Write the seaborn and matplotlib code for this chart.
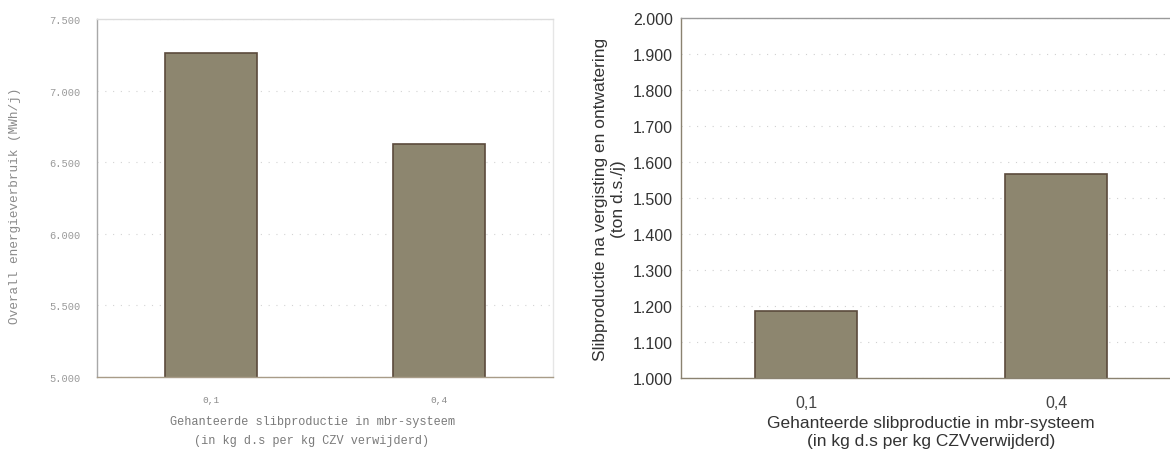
import matplotlib
matplotlib.use("Agg")
import matplotlib.pyplot as plt
import seaborn as sns
import pandas as pd

# Data
categories = ["0,1", "0,4"]
energy_mwh = [7265, 6625]          # overall energy use (MWh/j)
sludge_ton = [1185, 1567]          # sludge after digestion/dewatering (ton d.s./j)

energy_ticks = [5000, 5500, 6000, 6500, 7000, 7500]
energy_ticklabels = ["5.000", "5.500", "6.000", "6.500", "7.000", "7.500"]
sludge_ticks = [1000, 1100, 1200, 1300, 1400, 1500, 1600, 1700, 1800, 1900, 2000]
sludge_ticklabels = ["1.000", "1.100", "1.200", "1.300", "1.400", "1.500",
                     "1.600", "1.700", "1.800", "1.900", "2.000"]

sns.set_theme(style="white")
plt.rcParams["font.family"] = ["Liberation Sans", "DejaVu Sans"]

W, H = 1170, 456
fig = plt.figure(figsize=(W / 100, H / 100), dpi=100)
fig.patch.set_facecolor("white")

bar_color = "#8d866f"
edge_color = "#5b4a3c"
mono = "Liberation Mono"

# ---- left panel: energy use ----
ax1 = fig.add_axes([97 / W, (H - 378) / H, (553 - 97) / W, (378 - 20) / H])
df1 = pd.DataFrame({"cat": categories, "val": energy_mwh})
sns.barplot(data=df1, x="cat", y="val", ax=ax1, color=bar_color, width=0.4,
            edgecolor=edge_color, linewidth=1.2, saturation=1)
ax1.set_ylim(5000, 7500)
ax1.set_xlim(-0.5, 1.5)
ax1.set_yticks(energy_ticks)
ax1.set_yticklabels(energy_ticklabels, family=mono, fontsize=7.5, color="#9a9a9a")
ax1.set_xticks([0, 1])
ax1.set_xticklabels(categories, family=mono, fontsize=6.8, color="#8a8a8a")
ax1.tick_params(axis="y", length=3, width=0.6, color="#b0b0b0", pad=9)
ax1.tick_params(axis="x", length=0, pad=13)
ax1.yaxis.grid(True, linestyle=(0, (1, 6)), color="#d4d4d4", linewidth=0.8)
ax1.set_axisbelow(True)
for side, col in [("left", "#a8a8a8"), ("top", "#dcdcdc"), ("right", "#e6e6e6"), ("bottom", "#a89c88")]:
    ax1.spines[side].set_visible(True)
    ax1.spines[side].set_color(col)
    ax1.spines[side].set_linewidth(1.0)
ax1.set_ylabel("Overall energieverbruik (MWh/j)", family=mono,
               fontsize=9.2, color="#8a8a8a")
ax1.yaxis.set_label_coords(-(97 - 21) / 456, 0.48)
ax1.set_xlabel("Gehanteerde slibproductie in mbr-systeem\n(in kg d.s per kg CZV verwijderd)",
               family=mono, fontsize=8.6, color="#7a7a7a", linespacing=1.75)
ax1.xaxis.set_label_coords((312 - 97) / 456, -(416 - 378) / 358)

# ---- right panel: sludge production ----
ax2 = fig.add_axes([681 / W, (H - 379) / H, 500 / W, (379 - 19) / H])
df2 = pd.DataFrame({"cat": categories, "val": sludge_ton})
sns.barplot(data=df2, x="cat", y="val", ax=ax2, color=bar_color, width=0.41,
            edgecolor=edge_color, linewidth=1.2, saturation=1)
ax2.set_ylim(1000, 2000)
ax2.set_xlim(-0.5, 1.5)
ax2.set_yticks(sludge_ticks)
ax2.set_yticklabels(sludge_ticklabels, fontsize=11.5, color="#333333")
ax2.set_xticks([0, 1])
ax2.set_xticklabels(categories, fontsize=11.5, color="#444444")
ax2.tick_params(axis="y", length=3, width=0.6, color="#b0b0b0", pad=3)
ax2.tick_params(axis="x", length=0, pad=12)
ax2.yaxis.grid(True, linestyle=(0, (1, 6)), color="#d0d0d0", linewidth=0.8)
ax2.set_axisbelow(True)
for side, col in [("left", "#8a8270"), ("top", "#9a9a9a"), ("right", "#cccccc"), ("bottom", "#8a8270")]:
    ax2.spines[side].set_visible(True)
    ax2.spines[side].set_color(col)
    ax2.spines[side].set_linewidth(1.0)
ax2.set_ylabel("Slibproductie na vergisting en ontwatering\n(ton d.s./j)",
               fontsize=12.5, color="#333333", linespacing=1.25)
ax2.yaxis.set_label_coords(-(681 - 626) / 500, 0.5)
ax2.set_xlabel("Gehanteerde slibproductie in mbr-systeem\n(in kg d.s per kg CZVverwijderd)",
               fontsize=12.5, color="#333333", linespacing=1.25)
ax2.xaxis.set_label_coords(0.5, -(416 - 379) / 360)

fig.savefig("out.png", dpi=100, facecolor="white")
